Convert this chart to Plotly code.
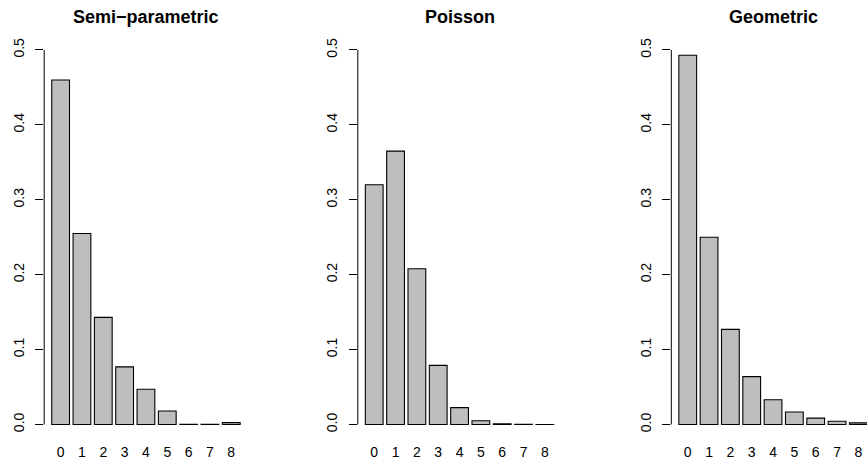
import plotly.graph_objects as go

categories = [0, 1, 2, 3, 4, 5, 6, 7, 8]
cat_labels = ["0", "1", "2", "3", "4", "5", "6", "7", "8"]

semi_parametric = [0.460, 0.255, 0.143, 0.077, 0.047, 0.018, 0.0002, 0.0002, 0.0025]
poisson = [0.320, 0.365, 0.208, 0.079, 0.0225, 0.0051, 0.0010, 0.0002, 0.0001]
geometric = [0.493, 0.250, 0.127, 0.064, 0.033, 0.0167, 0.0085, 0.0043, 0.0022]

titles = ["Semi\u2212parametric", "Poisson", "Geometric"]
series = [semi_parametric, poisson, geometric]

y_ticks = [0.0, 0.1, 0.2, 0.3, 0.4, 0.5]
y_tick_labels = ["0.0", "0.1", "0.2", "0.3", "0.4", "0.5"]

W, H = 867, 461
FONT = "Liberation Sans, Arial, Helvetica, sans-serif"

# panel plot regions in pixels (left, right)
px_unit = 21.33
left_px = [44.2, 357.8, 671.3]
full_w = 9.54 * px_unit

y_bot_px = 439.5
y_top_px = 35.0
ydom = [1 - y_bot_px / H, 1 - y_top_px / H]

fig = go.Figure()
layout = dict(
    width=W, height=H,
    margin=dict(l=0, r=0, t=0, b=0, autoexpand=False),
    paper_bgcolor="white", plot_bgcolor="white",
    showlegend=False,
    bargap=1 - 1 / 1.2,
    font=dict(family=FONT, color="black", size=14),
)

shapes = []
annotations = []
for i, (vals, title) in enumerate(zip(series, titles)):
    xa = "x" if i == 0 else f"x{i+1}"
    ya = "y" if i == 0 else f"y{i+1}"
    fig.add_trace(go.Bar(
        x=categories, y=vals, xaxis=xa, yaxis=ya,
        marker=dict(color="#BEBEBE", line=dict(color="black", width=1.1)),
        hoverinfo="x+y",
        cliponaxis=True,
    ))
    l = left_px[i]
    r = l + full_w
    rng_lo = -0.77
    if r > W:
        rng_hi = rng_lo + (W - l) / px_unit
        r = W
    else:
        rng_hi = 8.77
    xkey = "xaxis" if i == 0 else f"xaxis{i+1}"
    ykey = "yaxis" if i == 0 else f"yaxis{i+1}"
    layout[xkey] = dict(
        domain=[l / W, r / W], range=[rng_lo, rng_hi], anchor=ya,
        tickvals=categories, ticktext=cat_labels,
        showline=False, showgrid=False, zeroline=False, ticks="",
        tickfont=dict(family=FONT, size=14, color="black"),
        ticklabelstandoff=2,
        automargin=False,
        fixedrange=True,
    )
    layout[ykey] = dict(
        domain=ydom, range=[-0.02, 0.52], anchor=xa,
        tickvals=y_ticks, ticktext=y_tick_labels, tickangle=-90,
        showline=False, showgrid=False, zeroline=False,
        ticks="outside", ticklen=8, tickwidth=1, tickcolor="black",
        tickfont=dict(family=FONT, size=14, color="black"),
        ticklabelstandoff=6,
        automargin=False,
        fixedrange=True,
    )
    shapes.append(dict(
        type="line", xref=f"{xa} domain", yref=ya,
        x0=0, x1=0, y0=0, y1=0.5,
        line=dict(color="black", width=1),
    ))
    annotations.append(dict(
        text=f"<b>{title}</b>", xref="paper", yref="paper",
        x=(l + full_w / 2) / W, y=1 - 17 / H,
        xanchor="center", yanchor="middle", showarrow=False,
        font=dict(family=FONT, size=18, color="black"),
    ))

layout["shapes"] = shapes
layout["annotations"] = annotations
fig.update_layout(**layout)
fig.write_html(
    "out.html",
    config={"displayModeBar": False},
    post_script="document.body.style.margin='0';document.body.style.padding='0';document.body.style.overflow='hidden';",
)
